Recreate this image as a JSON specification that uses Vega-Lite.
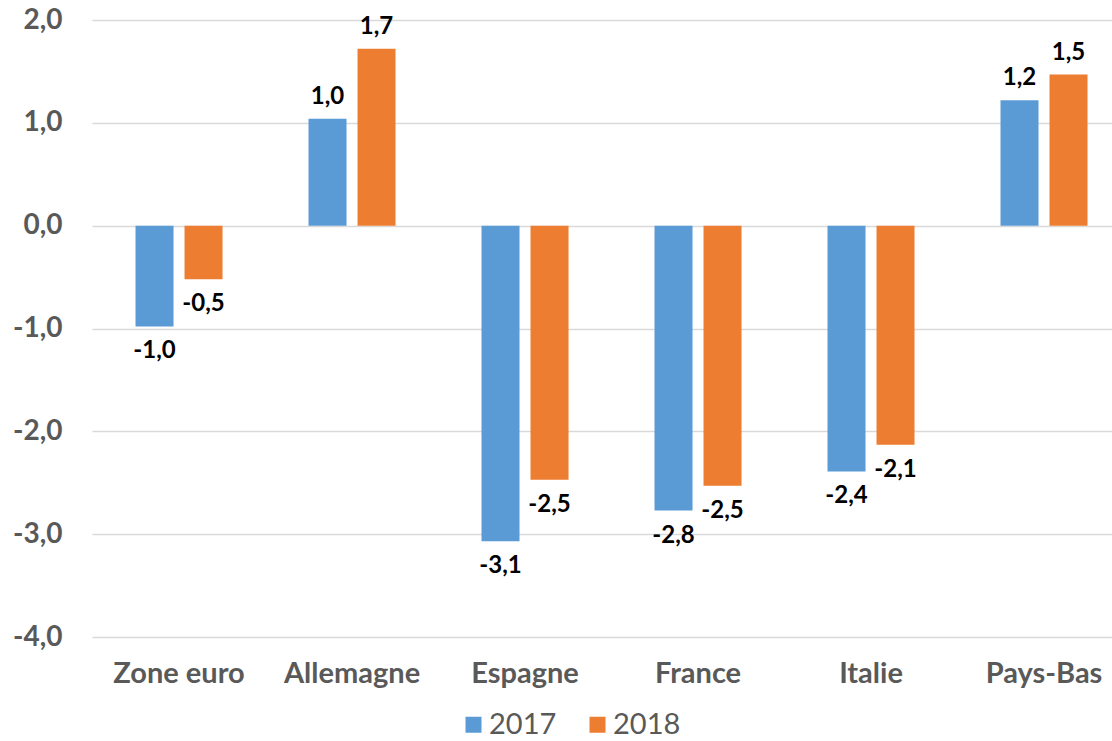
{
  "$schema": "https://vega.github.io/schema/vega-lite/v6.json",
  "width": 1020,
  "height": 617,
  "padding": {"left": 92, "top": 20, "right": 0, "bottom": 104},
  "autosize": {"type": "none"},
  "background": "white",
  "config": {
    "locale": {"number": {"decimal": ",", "thousands": "\u00a0", "grouping": [3], "currency": ["", "\u00a0€"], "minus": "-"}},
    "view": {"stroke": null},
    "font": "Lato"
  },
  "data": {
    "values": [
      {"pays": "Zone euro", "annee": "2017", "valeur": -0.98},
      {"pays": "Zone euro", "annee": "2018", "valeur": -0.52},
      {"pays": "Allemagne", "annee": "2017", "valeur": 1.04},
      {"pays": "Allemagne", "annee": "2018", "valeur": 1.72},
      {"pays": "Espagne", "annee": "2017", "valeur": -3.07},
      {"pays": "Espagne", "annee": "2018", "valeur": -2.47},
      {"pays": "France", "annee": "2017", "valeur": -2.77},
      {"pays": "France", "annee": "2018", "valeur": -2.53},
      {"pays": "Italie", "annee": "2017", "valeur": -2.39},
      {"pays": "Italie", "annee": "2018", "valeur": -2.13},
      {"pays": "Pays-Bas", "annee": "2017", "valeur": 1.22},
      {"pays": "Pays-Bas", "annee": "2018", "valeur": 1.47}
    ]
  },
  "encoding": {
    "x": {
      "field": "pays", "type": "nominal", "sort": null,
      "scale": {"paddingInner": 0.497, "paddingOuter": 0.1965, "align": 0.64},
      "axis": {"title": null, "labelAngle": 0, "domain": false, "ticks": false, "tickSize": 0, "grid": false,
               "labelFontSize": 29, "labelFontWeight": "bold", "labelColor": "#595959", "labelPadding": 22}
    },
    "xOffset": {"field": "annee", "type": "nominal", "scale": {"paddingInner": 0.2245, "paddingOuter": 0}},
    "y": {
      "field": "valeur", "type": "quantitative",
      "scale": {"domain": [-4, 2], "nice": false},
      "axis": {"title": null, "values": [-4, -3, -2, -1, 0, 1, 2], "format": ".1f", "domain": false, "ticks": false, "tickSize": 0,
               "labelFontSize": 28, "labelFontWeight": "bold", "labelColor": "#595959", "labelPadding": 30,
               "gridColor": "#D9D9D9", "gridWidth": 1.5}
    }
  },
  "layer": [
    {
      "mark": {"type": "bar"},
      "encoding": {
        "color": {
          "field": "annee", "type": "nominal",
          "scale": {"range": ["#5B9BD5", "#ED7D31"]},
          "legend": {"title": null, "orient": "none", "legendX": 367, "legendY": 690, "direction": "horizontal",
                     "symbolType": "square", "symbolSize": 256, "symbolStrokeWidth": 0,
                     "labelFontSize": 29, "labelColor": "#595959", "columnPadding": 26, "labelOffset": 1, "padding": 0}
        }
      }
    },
    {
      "transform": [{"filter": "datum.valeur >= 0"}],
      "mark": {"type": "text", "baseline": "bottom", "dy": -10, "fontSize": 24, "fontWeight": "bold", "color": "#000000"},
      "encoding": {"text": {"field": "valeur", "type": "quantitative", "format": ".1f"}}
    },
    {
      "transform": [{"filter": "datum.valeur < 0"}],
      "mark": {"type": "text", "baseline": "top", "dy": 13, "fontSize": 24, "fontWeight": "bold", "color": "#000000"},
      "encoding": {"text": {"field": "valeur", "type": "quantitative", "format": ".1f"}}
    }
  ]
}
